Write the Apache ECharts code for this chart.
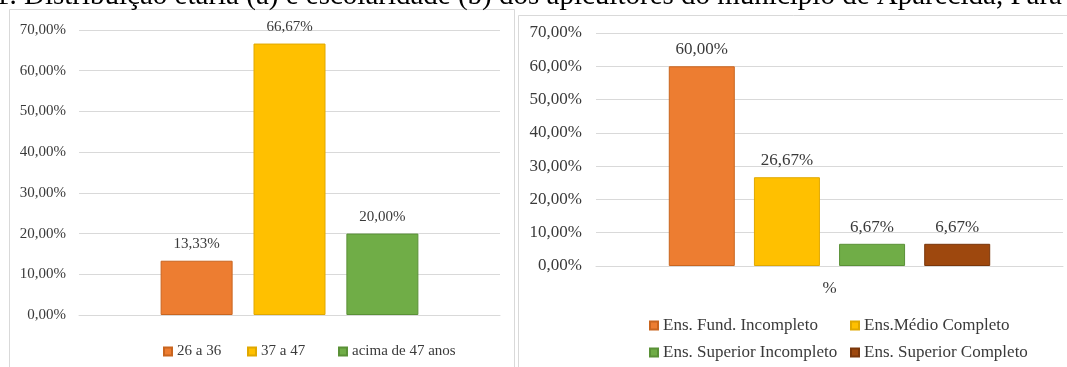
<!DOCTYPE html>
<html>
<head>
<meta charset="utf-8">
<script src="https://cdn.jsdelivr.net/npm/echarts@6/dist/echarts.min.js"></script>
<style>
html,body{margin:0;padding:0;background:#fff;}
#chart{width:1067px;height:367px;}
</style>
</head>
<body>
<div id="chart"></div>
<script>
// ---- data ----
const titleText = '1. Distribuição etária (a) e escolaridade (b) dos apicultores do município de Aparecida, Pará';
const ageSeriesNames = ['26 a 36', '37 a 47', 'acima de 47 anos'];
const ageValues = [13.33, 66.67, 20.00];
const eduSeriesNames = ['Ens. Fund. Incompleto', 'Ens.Médio Completo', 'Ens. Superior Incompleto', 'Ens. Superior Completo'];
const eduValues = [60.00, 26.67, 6.67, 6.67];
const eduCategory = ['%'];
const ageCategory = [''];
const ageColors = ['#ED7D31', '#FFC000', '#70AD47'];
const ageBorders = ['#C9651F', '#E0A800', '#5A9137'];
const eduColors = ['#ED7D31', '#FFC000', '#70AD47', '#9E480E'];
const eduBorders = ['#C9651F', '#E0A800', '#5A9137', '#7A360A'];

const serif = '"Liberation Serif", "Times New Roman", serif';
const pct = v => Number(v).toFixed(2).replace('.', ',') + '%';

const chart = echarts.init(document.getElementById('chart'), null, {renderer: 'canvas'});

const series = [];
ageSeriesNames.forEach((n, i) => {
  series.push({
    name: n, type: 'bar', xAxisIndex: 0, yAxisIndex: 0,
    data: [ageValues[i]], barWidth: 72, barGap: '29%',
    itemStyle: {color: ageColors[i], borderColor: ageBorders[i], borderWidth: 1},
    label: {show: true, position: 'top', distance: 9, formatter: p => pct(p.value),
      fontFamily: serif, fontSize: 15, color: '#3a3a3a'}
  });
});
eduSeriesNames.forEach((n, i) => {
  series.push({
    name: n, type: 'bar', xAxisIndex: 1, yAxisIndex: 1,
    data: [eduValues[i]], barWidth: 66, barGap: '29%',
    itemStyle: {color: eduColors[i], borderColor: eduBorders[i], borderWidth: 1},
    label: {show: true, position: 'top', distance: 8, formatter: p => pct(p.value),
      fontFamily: serif, fontSize: 17, color: '#3a3a3a'}
  });
});

function oneLegend(name, left, top, size) {
  return {
    data: [name], left: left, top: top, orient: 'horizontal',
    icon: 'rect', itemWidth: 8, itemHeight: 8,
    textStyle: {fontFamily: serif, color: '#3a3a3a', fontSize: size}
  };
}
const ageLegendLeft = [158, 242, 333];
const eduLegendPos = [[644, 312], [845, 312], [644, 339], [845, 339]];

const legends = [];
ageSeriesNames.forEach((n, i) => legends.push(oneLegend(n, ageLegendLeft[i], 339, 15)));
eduSeriesNames.forEach((n, i) => legends.push(oneLegend(n, eduLegendPos[i][0], eduLegendPos[i][1], 17)));

chart.setOption({
  animation: false,
  backgroundColor: '#fff',
  graphic: [
    {type: 'rect', shape: {x: 9.5, y: 9.5, width: 505, height: 400}, style: {fill: 'none', stroke: '#D9D9D9', lineWidth: 1}, z: -1},
    {type: 'rect', shape: {x: 518.5, y: 15.5, width: 600, height: 400}, style: {fill: 'none', stroke: '#D9D9D9', lineWidth: 1}, z: -1},
    {type: 'text', left: -5, top: -18, style: {text: titleText, font: '29px ' + serif, fill: '#000'}}
  ],
  grid: [
    {left: 79, right: 567, top: 30, bottom: 52},
    {left: 596, right: 4, top: 33, bottom: 101}
  ],
  xAxis: [
    {type: 'category', gridIndex: 0, data: ageCategory, axisTick: {show: false},
      axisLine: {lineStyle: {color: '#D9D9D9'}}, axisLabel: {show: false}},
    {type: 'category', gridIndex: 1, data: eduCategory, axisTick: {show: false},
      axisLine: {lineStyle: {color: '#D9D9D9'}},
      axisLabel: {fontFamily: serif, fontSize: 17, color: '#3a3a3a', margin: 14}}
  ],
  yAxis: [
    {type: 'value', gridIndex: 0, min: 0, max: 70, interval: 10,
      axisLabel: {formatter: pct, fontFamily: serif, fontSize: 15, color: '#3a3a3a', margin: 13},
      splitLine: {lineStyle: {color: '#D9D9D9'}}, axisLine: {show: false}, axisTick: {show: false}},
    {type: 'value', gridIndex: 1, min: 0, max: 70, interval: 10,
      axisLabel: {formatter: pct, fontFamily: serif, fontSize: 17, color: '#3a3a3a', margin: 14},
      splitLine: {lineStyle: {color: '#D9D9D9'}}, axisLine: {show: false}, axisTick: {show: false}}
  ],
  legend: legends,
  series: series
});
</script>
</body>
</html>
